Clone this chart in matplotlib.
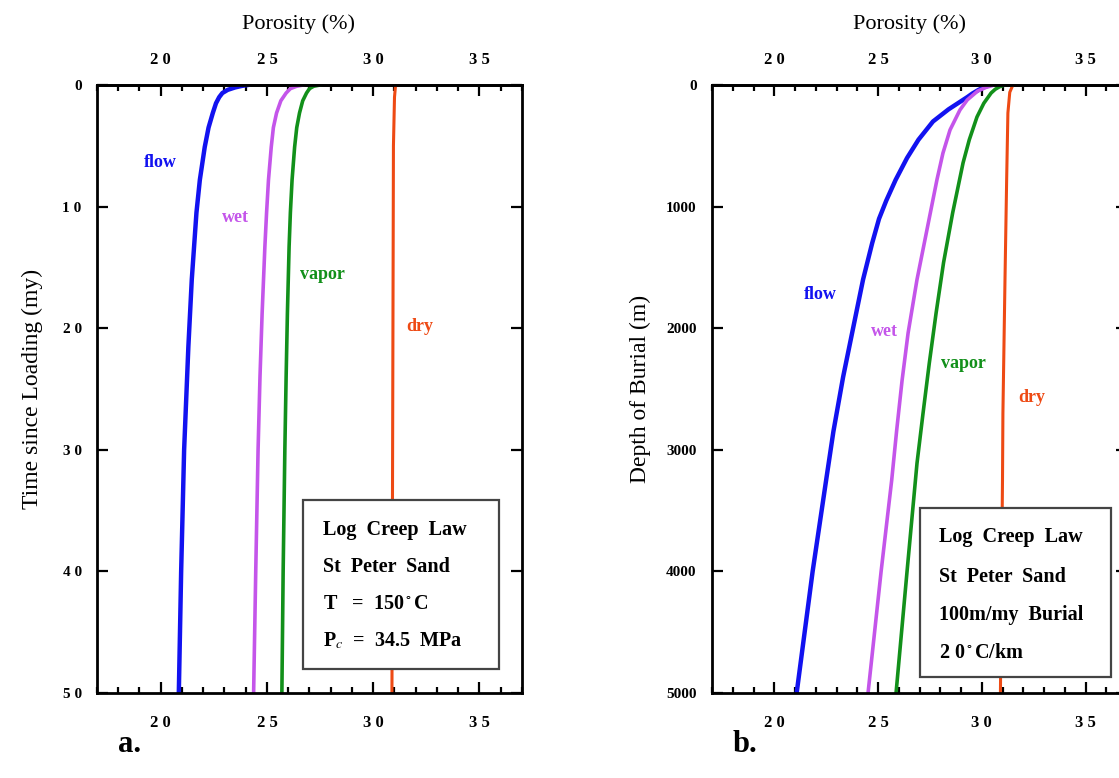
import matplotlib
matplotlib.use('Agg')
import matplotlib.pyplot as plt
import numpy as np

plt.rcParams['font.family'] = ['Liberation Serif', 'DejaVu Serif']
plt.rcParams['mathtext.fontset'] = 'stix'

# ---- panel a: porosity vs time since loading (my) ----
t_flow = [0, 0.08, 0.2, 0.4, 0.66, 1.0, 1.5, 2.3, 3.5, 5.1, 7.8, 10.5, 16, 21.5, 30, 40, 50]
p_flow = [24.1, 23.8, 23.5, 23.15, 22.9, 22.75, 22.6, 22.45, 22.25, 22.07, 21.84, 21.68, 21.46, 21.3, 21.1, 20.96, 20.85]
t_wet = [0, 0.1, 0.3, 0.66, 1.3, 2.3, 3.5, 5.1, 7.8, 10.5, 13.3, 18.8, 24, 30, 40, 50]
p_wet = [26.7, 26.4, 26.1, 25.9, 25.65, 25.45, 25.3, 25.2, 25.07, 24.98, 24.9, 24.77, 24.67, 24.58, 24.47, 24.37]
t_vap = [0, 0.1, 0.3, 0.66, 1.3, 2.3, 3.5, 5.1, 7.8, 10.5, 13.3, 18.8, 24, 30, 40, 50]
p_vap = [27.5, 27.2, 27.0, 26.86, 26.68, 26.53, 26.4, 26.3, 26.18, 26.1, 26.04, 25.96, 25.9, 25.84, 25.76, 25.7]
t_dry = [0, 1, 5, 50]
p_dry = [31.05, 31.0, 30.95, 30.88]

# ---- panel b: porosity vs depth of burial (m) ----
d_flow = [0, 15, 40, 70, 100, 150, 200, 300, 450, 600, 780, 950, 1100, 1300, 1600, 2000, 2400, 2850, 3250, 4000, 5000]
q_flow = [30.4, 30.15, 29.85, 29.55, 29.3, 28.85, 28.4, 27.65, 26.95, 26.4, 25.85, 25.4, 25.05, 24.72, 24.28, 23.8, 23.32, 22.85, 22.5, 21.85, 21.08]
d_wet = [0, 20, 50, 123, 205, 370, 560, 780, 1190, 1600, 2040, 2430, 2840, 3250, 4000, 5000]
q_wet = [30.6, 30.2, 29.8, 29.3, 28.95, 28.47, 28.13, 27.84, 27.36, 26.88, 26.45, 26.16, 25.9, 25.66, 25.15, 24.52]
d_vap = [0, 15, 35, 66, 150, 263, 450, 640, 1050, 1460, 1875, 2290, 2700, 3110, 4000, 5000]
q_vap = [31.1, 30.85, 30.65, 30.45, 30.1, 29.77, 29.4, 29.1, 28.6, 28.16, 27.8, 27.47, 27.17, 26.88, 26.4, 25.87]
d_dry = [0, 60, 230, 780, 1600, 2700, 3250, 5000]
q_dry = [31.5, 31.35, 31.26, 31.2, 31.12, 31.02, 31.0, 30.9]

xticks = [20, 25, 30, 35]
xticklabels = ['2 0', '2 5', '3 0', '3 5']
yticks_a = [0, 10, 20, 30, 40, 50]
yticklabels_a = ['0', '1 0', '2 0', '3 0', '4 0', '5 0']
yticks_b = [0, 1000, 2000, 3000, 4000, 5000]
yticklabels_b = ['0', '1000', '2000', '3000', '4000', '5000']

box_a = ['Log  Creep  Law', 'St  Peter  Sand', 'T   =  150$^\\circ$C', 'P$_c$  =  34.5  MPa']
box_b = ['Log  Creep  Law', 'St  Peter  Sand', '100m/my  Burial', '2 0$^\\circ$C/km']

c_flow = '#1212f0'
c_wet = '#c455ea'
c_vap = '#12901a'
c_dry = '#ee4a14'

W, H = 1119, 778
fig = plt.figure(figsize=(W / 100, H / 100), dpi=100)

def px_axes(x0, x1, y0, y1):
    return fig.add_axes([x0 / W, 1 - y1 / H, (x1 - x0) / W, (y1 - y0) / H])

def style(ax, yticks, yticklabels, ylabel, ylx):
    ax.set_xlim(17, 37)
    ax.set_xticks(xticks)
    ax.set_xticklabels(xticklabels, fontweight='bold', fontsize=12)
    ax.set_xticks(np.arange(17, 38, 1), minor=True)
    ax.set_yticks(yticks)
    ax.set_yticklabels(yticklabels, fontweight='bold', fontsize=11)
    ax.tick_params(axis='x', which='both', direction='in', top=False, bottom=True,
                   pad=16, width=1.6)
    ax.tick_params(axis='x', which='major', length=8)
    ax.tick_params(axis='x', which='minor', length=4)
    ax.tick_params(axis='y', which='major', direction='in', left=True, right=True,
                   length=8, width=1.6, pad=11)
    for s in ax.spines.values():
        s.set_linewidth(2.0)
    top = ax.secondary_xaxis('top')
    top.set_xticks(xticks)
    top.set_xticklabels(xticklabels, fontweight='bold', fontsize=12)
    top.set_xticks(np.arange(17, 38, 1), minor=True)
    top.tick_params(axis='x', which='both', direction='in', pad=12, width=1.6)
    top.tick_params(axis='x', which='major', length=8)
    top.tick_params(axis='x', which='minor', length=4)
    top.spines['top'].set_linewidth(2.0)
    ax.text(0.475, 1.1, 'Porosity (%)', fontsize=16, ha='center', va='center',
            transform=ax.transAxes)
    ax.set_ylabel(ylabel, fontsize=17)
    ax.yaxis.set_label_coords(ylx, 0.5)

lbl = dict(fontweight='bold', fontsize=13, ha='center', va='center')
boxtxt = dict(fontweight='bold', fontsize=14.5, ha='left', va='center', zorder=5)

# panel a
ax1 = px_axes(97, 522, 85, 693)
ax1.plot(p_flow, t_flow, color=c_flow, lw=3.2)
ax1.plot(p_wet, t_wet, color=c_wet, lw=2.6)
ax1.plot(p_vap, t_vap, color=c_vap, lw=2.6)
ax1.plot(p_dry, t_dry, color=c_dry, lw=2.2)
ax1.set_ylim(50, 0)
style(ax1, yticks_a, yticklabels_a, 'Time since Loading (my)', -0.128)
ax1.text(20.0, 6.4, 'flow', color=c_flow, **lbl)
ax1.text(23.5, 10.9, 'wet', color=c_wet, **lbl)
ax1.text(27.6, 15.6, 'vapor', color=c_vap, **lbl)
ax1.text(32.2, 19.9, 'dry', color=c_dry, **lbl)
ax1.add_patch(plt.Rectangle((26.69, 34.1), 9.23, 13.9, facecolor='white', edgecolor='#444444',
                            lw=1.6, zorder=4))
for yy, s in zip([36.6, 39.6, 42.7, 45.7], box_a):
    ax1.text(27.64, yy, s, **boxtxt)

# panel b (extends past the right edge of the figure)
ax2 = px_axes(712, 1127, 85, 693)
ax2.plot(q_flow, d_flow, color=c_flow, lw=3.2)
ax2.plot(q_wet, d_wet, color=c_wet, lw=2.6)
ax2.plot(q_vap, d_vap, color=c_vap, lw=2.6)
ax2.plot(q_dry, d_dry, color=c_dry, lw=2.2)
ax2.set_ylim(5000, 0)
style(ax2, yticks_b, yticklabels_b, 'Depth of Burial (m)', -0.147)
ax2.text(22.2, 1720, 'flow', color=c_flow, **lbl)
ax2.text(25.3, 2030, 'wet', color=c_wet, **lbl)
ax2.text(29.1, 2290, 'vapor', color=c_vap, **lbl)
ax2.text(32.4, 2570, 'dry', color=c_dry, **lbl)
ax2.add_patch(plt.Rectangle((27.02, 3478), 9.21, 1390, facecolor='white', edgecolor='#444444',
                            lw=1.6, zorder=4))
for yy, s in zip([3717, 4046, 4359, 4671], box_b):
    ax2.text(27.94, yy, s, **boxtxt)

fig.text(130 / W, 1 - 745 / H, 'a.', fontweight='bold', fontsize=22, ha='center', va='center')
fig.text(745 / W, 1 - 745 / H, 'b.', fontweight='bold', fontsize=22, ha='center', va='center')

plt.savefig('out.png', dpi=100)
